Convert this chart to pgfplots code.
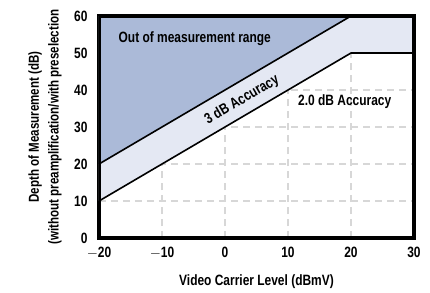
\documentclass[border=0pt]{standalone}
\usepackage{pgfplots}
\pgfplotsset{compat=1.18}
\usepackage{fontspec}
\setmainfont{Liberation Sans}[FakeStretch=0.8]
\definecolor{outrange}{RGB}{171,186,216}
\definecolor{band}{RGB}{228,232,243}
\definecolor{gridc}{RGB}{215,215,215}
\newcommand{\ff}{\bfseries\fontsize{15}{17}\selectfont}
\begin{document}
\begin{tikzpicture}
\begin{axis}[
  at={(0,0)}, anchor=south west,
  scale only axis, width=315bp, height=222bp,
  xmin=-20, xmax=30, ymin=0, ymax=60,
  xtick={-20,-10,0,10,20,30}, ytick={0,10,20,30,40,50,60},
  xticklabels={$-$20,$-$10,0,10,20,30},
  major tick length=0pt,
  grid=major,
  major grid style={gridc, line width=1.3bp, dash pattern=on 7bp off 5bp},
  axis line style={line width=4bp, black},
  font=\ff,
  /pgf/number format/assume math mode=true,
  ticklabel style={font=\ff},
  xticklabel style={yshift=-6bp},
  yticklabel style={xshift=-8bp},
  xlabel={Video Carrier Level (dBmV)},
  xlabel style={at={(axis description cs:0.5,0)}, anchor=center, yshift=-44bp},
  ylabel={Depth of Measurement (dB)\\(without preamplification/with preselection},
  ylabel style={align=center, at={(axis description cs:0,0.5)}, anchor=center, yshift=54bp, font=\bfseries\fontsize{14.5}{20}\selectfont},
]
\addplot[fill=outrange, draw=none] coordinates {(-20,20) (20,60) (-20,60)} -- cycle;
\addplot[fill=band, draw=none] coordinates {(-20,10) (20,50) (30,50) (30,60) (20,60) (-20,20)} -- cycle;
\addplot[black, line width=1.6bp] coordinates {(-20,20) (20,60)};
\addplot[black, line width=1.6bp] coordinates {(-20,10) (20,50) (30,50)};
\node[font=\ff] at (axis cs:-4.8,54) {Out of measurement range};
\node[font=\ff, rotate=30.4] at (axis cs:2.7,37.3) {3 dB Accuracy};
\node[font=\ff] at (axis cs:19,36.8) {2.0 dB Accuracy};
\draw[line width=4bp, black] (rel axis cs:0,0) rectangle (rel axis cs:1,1);
\end{axis}
\path (-99bp,-50bp) (331bp,238bp);
\end{tikzpicture}
\end{document}
